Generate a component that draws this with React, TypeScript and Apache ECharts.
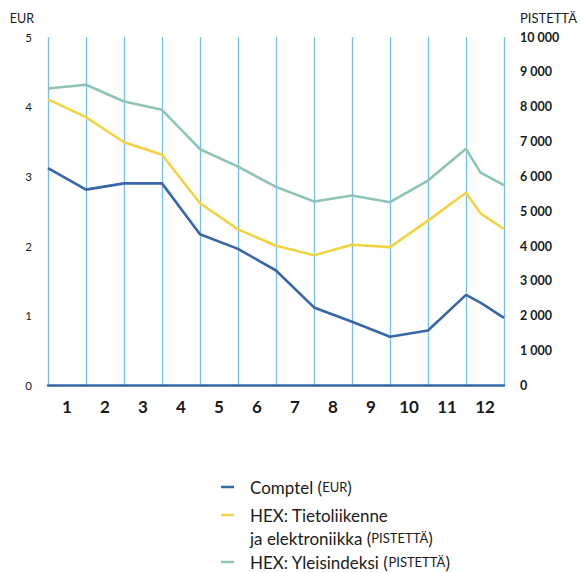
import React, { useEffect, useRef } from "react";
import * as echarts from "echarts";

// x positions in months from start of period (gridlines at whole months)
const xPositions = [0, 1, 2, 3, 4, 5, 6, 7, 8, 9, 10, 11, 11.38, 12];
const monthLabels = ["1", "2", "3", "4", "5", "6", "7", "8", "9", "10", "11", "12"];
// Comptel share price, EUR (left axis)
const comptel = [3.12, 2.81, 2.9, 2.9, 2.17, 1.96, 1.65, 1.12, 0.915, 0.7, 0.79, 1.3, 1.19, 0.97];
// HEX Telecom & electronics index, points (right axis)
const teleIndex = [8210, 7700, 6980, 6620, 5230, 4480, 4010, 3740, 4040, 3970, 4730, 5530, 4940, 4490];
// HEX general index, points (right axis)
const generalIndex = [8520, 8630, 8150, 7910, 6780, 6280, 5700, 5280, 5450, 5260, 5880, 6790, 6110, 5750];
const leftTicks = { min: 0, max: 5, interval: 1 };
const rightTicks = { min: 0, max: 10000, interval: 1000 };

const BLUE = "#3767a6";
const YELLOW = "#f2d341";
const TEAL = "#8ec4b7";
const GRID = "#74bdee";
const FONT = "Lato, 'Open Sans', sans-serif";

function pairs(vals: number[]) {
  return vals.map((v, i) => [xPositions[i], v]);
}

export default function App() {
  const ref = useRef<HTMLDivElement>(null);
  useEffect(() => {
    if (!ref.current) return;
    const chart = echarts.init(ref.current, null, { renderer: "svg" });
    const legendY = [487, 515, 562];
    const rich = {
      a: { fontFamily: FONT, fontSize: 17, fill: "#1a1a1a" },
      s: { fontFamily: FONT, fontSize: 13, fill: "#1a1a1a" },
    };
    chart.setOption({
      animation: false,
      grid: { left: 48, right: 76, top: 37, bottom: 187.5 },
      xAxis: [
        {
          type: "value",
          min: 0,
          max: 12,
          interval: 1,
          position: "bottom",
          axisLine: { show: true, onZero: false, lineStyle: { color: BLUE, width: 2.5 } },
          axisTick: { show: false },
          axisLabel: { show: false },
          splitLine: { show: true, showMinLine: true, showMaxLine: true, lineStyle: { color: GRID, width: 1.3 } },
        },
        {
          type: "category",
          data: monthLabels,
          boundaryGap: true,
          position: "bottom",
          axisLine: { show: false },
          axisTick: { show: false },
          splitLine: { show: false },
          axisLabel: { margin: 12, fontFamily: FONT, fontSize: 17, fontWeight: "bold", color: "#1a1a1a" },
        },
      ],
      yAxis: [
        {
          type: "value",
          ...leftTicks,
          name: "EUR",
          nameLocation: "end",
          nameGap: 19,
          nameTextStyle: { align: "right", verticalAlign: "middle", padding: [0, 14, 0, 0], fontFamily: FONT, fontSize: 12.5, color: "#1a1a1a" },
          axisLine: { show: false },
          axisTick: { show: false },
          splitLine: { show: false },
          axisLabel: { margin: 16, fontFamily: FONT, fontSize: 11.5, color: "#1a1a1a" },
        },
        {
          type: "value",
          ...rightTicks,
          name: "PISTETTÄ",
          nameLocation: "end",
          nameGap: 19,
          nameTextStyle: { align: "left", verticalAlign: "middle", padding: [0, 0, 0, 16], fontFamily: FONT, fontSize: 13, color: "#1a1a1a" },
          axisLine: { show: false },
          axisTick: { show: false },
          splitLine: { show: false },
          axisLabel: {
            margin: 16,
            fontFamily: FONT,
            fontSize: 12.5,
            fontWeight: "bold",
            color: "#1a1a1a",
            formatter: (v: number) => String(v).replace(/\B(?=(\d{3})+(?!\d))/g, " "),
          },
        },
      ],
      series: [
        {
          name: "HEX: Yleisindeksi",
          type: "line",
          xAxisIndex: 0,
          yAxisIndex: 1,
          data: pairs(generalIndex),
          symbol: "none",
          lineStyle: { color: TEAL, width: 2.6 },
        },
        {
          name: "HEX: Tietoliikenne ja elektroniikka",
          type: "line",
          xAxisIndex: 0,
          yAxisIndex: 1,
          data: pairs(teleIndex),
          symbol: "none",
          lineStyle: { color: YELLOW, width: 2.6 },
        },
        {
          name: "Comptel",
          type: "line",
          xAxisIndex: 0,
          yAxisIndex: 0,
          data: pairs(comptel),
          symbol: "none",
          lineStyle: { color: BLUE, width: 2.6 },
        },
      ],
      graphic: [
        { type: "rect", left: 221, top: legendY[0] - 1.25, shape: { width: 13, height: 2.5 }, style: { fill: BLUE } },
        { type: "rect", left: 221, top: legendY[1] - 1.25, shape: { width: 13, height: 2.5 }, style: { fill: YELLOW } },
        { type: "rect", left: 221, top: legendY[2] - 1.25, shape: { width: 13, height: 2.5 }, style: { fill: TEAL } },
        {
          type: "text",
          x: 250,
          y: legendY[0],
          style: { text: "{a|Comptel (}{s|EUR}{a|)}", verticalAlign: "middle", rich },
        },
        {
          type: "text",
          x: 250,
          y: legendY[1],
          style: { text: "{a|HEX: Tietoliikenne}", verticalAlign: "middle", rich },
        },
        {
          type: "text",
          x: 250,
          y: 538,
          style: { text: "{a|ja elektroniikka (}{s|PISTETTÄ}{a|)}", verticalAlign: "middle", rich },
        },
        {
          type: "text",
          x: 250,
          y: legendY[2],
          style: { text: "{a|HEX: Yleisindeksi (}{s|PISTETTÄ}{a|)}", verticalAlign: "middle", rich },
        },
      ],
    });
    return () => chart.dispose();
  }, []);
  return <div ref={ref} style={{ width: 580, height: 573, position: "absolute", left: 0, top: 0 }} />;
}
